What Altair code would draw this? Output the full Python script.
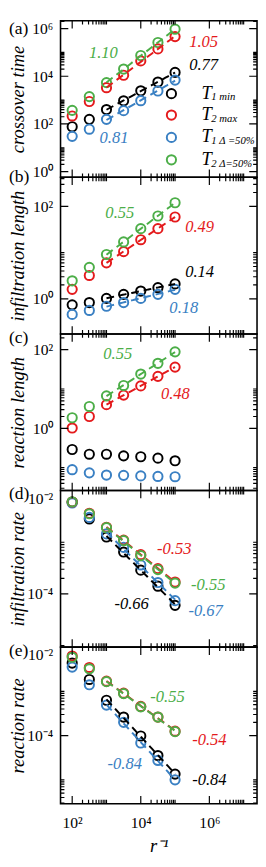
import math
import altair as alt
import pandas as pd

# ---------------- data ----------------
x_vals = [100, 316, 1000, 3162, 10000, 31623, 100000]
series_names = ["T1min", "T2max", "T1d50", "T2d50"]
series_colors = ["#000000", "#e41a1c", "#3a80c3", "#4cae48"]
draw_order = ["T1min", "T1d50", "T2max", "T2d50"]

# (a) crossover time
a_T1min = [76, 155, 400, 930, 2450, 5700, 14500]
a_T2max = [215, 870, 3300, 11000, 44000, 140000, 460000]
a_T1d50 = [30, 60, 155, 360, 940, 2400, 6900]
a_T2d50 = [370, 1400, 5400, 20000, 74000, 260000, 940000]
# (b) infiltration length
b_T1min = [0.74, 0.83, 1.02, 1.25, 1.47, 1.74, 2.1]
b_T2max = [1.6, 3.2, 6.0, 10.5, 19, 33, 59]
b_T1d50 = [0.46, 0.56, 0.69, 0.83, 1.02, 1.25, 1.6]
b_T2d50 = [2.45, 4.8, 9.1, 17, 33, 62, 120]
# (c) reaction length
c_T1min = [0.29, 0.22, 0.22, 0.20, 0.19, 0.175, 0.15]
c_T2max = [1.02, 2.0, 4.0, 7.0, 12, 21, 36]
c_T1d50 = [0.089, 0.074, 0.065, 0.064, 0.062, 0.060, 0.059]
c_T2d50 = [1.86, 3.6, 6.7, 12.3, 24, 45, 88]
# (d) infiltration rate
d_T1min = [6.0e-3, 2.82e-3, 1.26e-3, 6.46e-4, 2.88e-4, 1.41e-4, 6.0e-5]
d_T2max = [6.0e-3, 3.63e-3, 1.95e-3, 1.10e-3, 5.75e-4, 3.09e-4, 1.70e-4]
d_T1d50 = [5.75e-3, 3.02e-3, 1.45e-3, 7.94e-4, 3.63e-4, 1.66e-4, 7.4e-5]
d_T2d50 = [6.03e-3, 3.55e-3, 1.91e-3, 1.07e-3, 5.5e-4, 2.95e-4, 1.62e-4]
# (e) reaction rate
e_T1min = [4.37e-3, 1.86e-3, 6.3e-4, 2.63e-4, 9.8e-5, 3.55e-5, 1.35e-5]
e_T2max = [6.3e-3, 3.47e-3, 1.70e-3, 9.1e-4, 4.57e-4, 2.63e-4, 1.26e-4]
e_T1d50 = [3.55e-3, 1.41e-3, 4.9e-4, 2.0e-4, 6.8e-5, 2.75e-5, 1.0e-5]
e_T2d50 = [5.9e-3, 3.24e-3, 1.66e-3, 8.9e-4, 4.47e-4, 2.63e-4, 1.23e-4]

# exponent annotations: (x, y, text, series)
a_notes = [(813, 9.5e4, "1.10", "T2d50"), (6.8e5, 2.7e5, "1.05", "T2max"),
           (6.8e5, 2.8e4, "0.77", "T1min"), (1660, 24.5, "0.81", "T1d50")]
b_notes = [(2450, 71, "0.55", "T2d50"), (5.2e5, 35, "0.49", "T2max"),
           (5.2e5, 3.7, "0.14", "T1min"), (1.8e5, 0.62, "0.18", "T1d50")]
c_notes = [(2140, 76, "0.55", "T2d50"), (1.02e5, 7.2, "0.48", "T2max")]
d_notes = [(9.5e4, 7.2e-4, "-0.53", "T2max"), (9.3e5, 1.48e-4, "-0.55", "T2d50"),
           (5400, 6.2e-5, "-0.66", "T1min"), (7.8e5, 4.6e-5, "-0.67", "T1d50")]
e_notes = [(6.0e4, 7.6e-4, "-0.55", "T2d50"), (1.0e6, 8.1e-5, "-0.54", "T2max"),
           (3400, 2.3e-5, "-0.84", "T1d50"), (1.0e6, 9.8e-6, "-0.84", "T1min")]

legend_series = ["T1min", "T2max", "T1d50", "T2d50"]
legend_sub = ["1 min", "2 max", "1 \u0394 =50%", "2 \u0394=50%"]

x_major = [1e2, 1e4, 1e6]
x_minor = [k * 10 ** d for d in (2, 4, 6) for k in range(2, 11)]

# ---------------- style ----------------
FONT = "Liberation Serif"
W, H = 202, 161
XDOM = [10 ** 1.66, 10 ** 7.39]
PT_SIZE = 90
SUP = {"-": "\u207b", "0": "\u2070", "1": "\u00b9", "2": "\u00b2", "3": "\u00b3",
       "4": "\u2074", "5": "\u2075", "6": "\u2076", "7": "\u2077", "8": "\u2078", "9": "\u2079"}


def sup(n):
    return "".join(SUP[c] for c in str(n))


def label_expr(vals):
    parts = []
    for v in vals:
        e = round(math.log10(v))
        parts.append(f"round(log(datum.value)/LN10) == {e} ? '10{sup(e)}'")
    return " : ".join(parts) + " : ''"


color_scale = alt.Scale(domain=series_names, range=series_colors)


def panel(vals, ydom, ymaj, title, fit_series, notes, tag, tag_y, bottom=False, legend=False):
    rows = []
    for s in draw_order:
        for xv, yv in zip(x_vals, vals[s]):
            rows.append({"x": xv, "y": yv, "series": s})
    df = pd.DataFrame(rows)
    xs = alt.Scale(type="log", domain=XDOM, nice=False)
    ys = alt.Scale(type="log", domain=ydom, nice=False)
    col = alt.Color("series:N", scale=color_scale, legend=None)

    if bottom:
        xaxis = alt.Axis(values=x_major, labelExpr=label_expr(x_major), title="r\u207b\u00b9",
                         domain=False, ticks=False, grid=False, labelFont=FONT, labelFontSize=16,
                         labelPadding=11, labelColor="black", labelFlush=False,
                         titleFont=FONT, titleFontSize=19, titleFontStyle="italic",
                         titleFontWeight="normal", titleColor="black", titleY=43,
                         titleBaseline="middle")
    else:
        xaxis = None
    yaxis = alt.Axis(values=ymaj, labelExpr=label_expr(ymaj), title=title, domain=False,
                     ticks=False, grid=False, labelFont=FONT, labelFontSize=16, labelPadding=8,
                     labelColor="black", labelFlush=True, titleFont=FONT, titleFontSize=19,
                     titleFontStyle="italic", titleFontWeight="normal", titleColor="black",
                     titleAngle=270, titleX=-44, titleY=H / 2, titleAlign="center",
                     titleBaseline="middle")

    def X(f):
        return alt.X(f, scale=xs, axis=xaxis)

    def Y(f):
        return alt.Y(f, scale=ys, axis=yaxis)

    pts = alt.Chart(df).mark_point(shape="circle", filled=False, size=PT_SIZE, strokeWidth=2,
                                   opacity=1, clip=True).encode(
        x=X("x:Q"), y=Y("y:Q"), color=col)
    fit = alt.Chart(df).transform_filter(alt.datum.x >= 1000).transform_filter(
        alt.FieldOneOfPredicate(field="series", oneOf=fit_series)
    ).transform_regression("x", "y", method="pow", groupby=["series"]).mark_line(
        strokeDash=[8, 5], strokeWidth=2, clip=True).encode(
        x=X("x:Q"), y=Y("y:Q"), color=col)

    ndf = pd.DataFrame(notes, columns=["x", "y", "t", "series"])
    txt = alt.Chart(ndf).mark_text(font=FONT, fontSize=17, fontStyle="italic").encode(
        x=X("x:Q"), y=Y("y:Q"), text="t:N", color=col)

    layers = [pts, fit, txt]

    # inward ticks
    xmaj = pd.DataFrame({"x": x_major})
    xmin = pd.DataFrame({"x": x_minor})
    for d, ln in ((xmaj, 8), (xmin, 4)):
        layers.append(alt.Chart(d).mark_rule(color="black", strokeWidth=1.2, clip=True).encode(
            x=X("x:Q"), y=alt.value(0), y2=alt.value(ln)))
        layers.append(alt.Chart(d).mark_rule(color="black", strokeWidth=1.2, clip=True).encode(
            x=X("x:Q"), y=alt.value(H), y2=alt.value(H - ln)))
    lo = math.floor(math.log10(ydom[0]))
    hi = math.ceil(math.log10(ydom[1]))
    even = [d for d in range(lo - 1, hi + 1) if d % 2 == 0]
    ymajor_all = [10.0 ** d for d in even]
    yminor = [k * 10.0 ** d for d in even for k in range(2, 11)]
    ymajdf = pd.DataFrame({"y": ymajor_all})
    ymindf = pd.DataFrame({"y": yminor})
    for d, ln in ((ymajdf, 8), (ymindf, 4)):
        layers.append(alt.Chart(d).mark_rule(color="black", strokeWidth=1.2, clip=True).encode(
            y=Y("y:Q"), x=alt.value(0), x2=alt.value(ln)))
        layers.append(alt.Chart(d).mark_rule(color="black", strokeWidth=1.2, clip=True).encode(
            y=Y("y:Q"), x=alt.value(W), x2=alt.value(W - ln)))

    tagc = alt.Chart(pd.DataFrame({"t": [tag]})).mark_text(
        font=FONT, fontSize=18, align="left", baseline="middle", color="black").encode(
        x=alt.value(-53), y=alt.value(tag_y), text="t:N")
    layers.append(tagc)

    if legend:
        ys_px = [75, 97, 120, 143]
        for s, sub_t, yy in zip(legend_series, legend_sub, ys_px):
            c = series_colors[series_names.index(s)]
            ld = pd.DataFrame({"s": [s], "T": ["T"], "sub": [sub_t]})
            layers.append(alt.Chart(ld).mark_point(shape="circle", filled=False, size=PT_SIZE,
                                                   strokeWidth=2, opacity=1, color=c).encode(
                x=alt.value(114), y=alt.value(yy)))
            layers.append(alt.Chart(ld).mark_text(font=FONT, fontSize=19, fontStyle="italic",
                                                  align="left", baseline="middle",
                                                  color="black").encode(
                x=alt.value(145), y=alt.value(yy - 1), text="T:N"))
            layers.append(alt.Chart(ld).mark_text(font=FONT, fontSize=11, fontStyle="italic",
                                                  align="left", baseline="alphabetic",
                                                  color="black").encode(
                x=alt.value(155), y=alt.value(yy + 7), text="sub:N"))

    return alt.layer(*layers).properties(width=W, height=H)


all4 = ["T1min", "T2max", "T1d50", "T2d50"]
pa = panel({"T1min": a_T1min, "T2max": a_T2max, "T1d50": a_T1d50, "T2d50": a_T2d50},
           [10 ** -0.24, 10 ** 6.33], [1, 1e2, 1e4, 1e6], "crossover time", all4, a_notes,
           "(a)", 9, legend=True)
pb = panel({"T1min": b_T1min, "T2max": b_T2max, "T1d50": b_T1d50, "T2d50": b_T2d50},
           [10 ** -0.76, 10 ** 2.63], [1, 1e2], "infiltration length", all4, b_notes, "(b)", 0)
pc = panel({"T1min": c_T1min, "T2max": c_T2max, "T1d50": c_T1d50, "T2d50": c_T2d50},
           [10 ** -1.58, 10 ** 2.40], [1, 1e2], "reaction length", ["T2max", "T2d50"], c_notes,
           "(c)", 4)
pd_ = panel({"T1min": d_T1min, "T2max": d_T2max, "T1d50": d_T1d50, "T2d50": d_T2d50},
            [10 ** -5.03, 1e-2], [1e-4, 1e-2], "infiltration rate", all4, d_notes, "(d)", 4)
pe = panel({"T1min": e_T1min, "T2max": e_T2max, "T1d50": e_T1d50, "T2d50": e_T2d50},
           [10 ** -5.54, 1e-2], [1e-4, 1e-2], "reaction rate", all4, e_notes, "(e)", 4,
           bottom=True)

chart = alt.vconcat(pa, pb, pc, pd_, pe, spacing=0, bounds="flush").properties(
    padding=0
).configure_view(stroke="black", strokeWidth=1.6)

chart.save("out.html", embed_options={"renderer": "svg", "actions": False})
